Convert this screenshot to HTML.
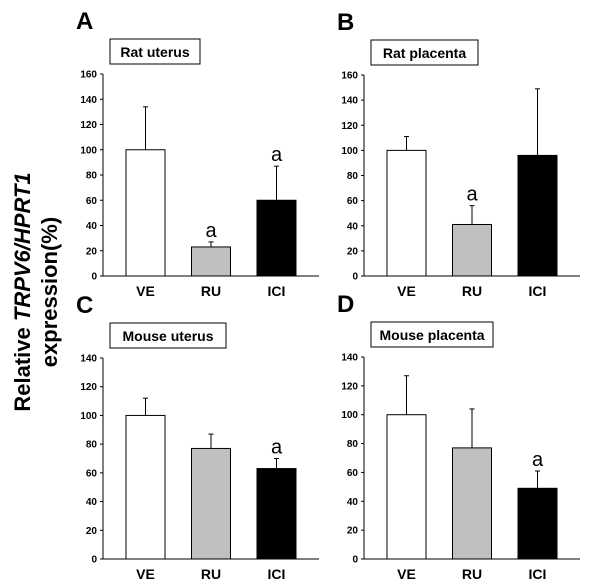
<!DOCTYPE html>
<html><head><meta charset="utf-8"><style>
body{margin:0;background:#fff;}
svg{display:block;font-family:"Liberation Sans",Arial,sans-serif;}
</style></head><body>
<svg id="fig" width="600" height="586" viewBox="0 0 600 586">
<text transform="translate(30,292) rotate(-90)" text-anchor="middle" font-size="22" font-weight="bold">Relative <tspan font-style="italic">TRPV6/HPRT1</tspan></text>
<text transform="translate(57,292) rotate(-90)" text-anchor="middle" font-size="22" font-weight="bold">expression(%)</text>
</svg>
<script>
const categories = ["VE","RU","ICI"];
const panelLetters = ["A","B","C","D"];
const panelTitles = ["Rat uterus","Rat placenta","Mouse uterus","Mouse placenta"];
const yMaxes = [160,160,140,140];
const valuesA = [100,23,60];
const errorsA = [34,4,27];
const valuesB = [100,41,96];
const errorsB = [11,15,53];
const valuesC = [100,77,63];
const errorsC = [12,10,7];
const valuesD = [100,77,49];
const errorsD = [27,27,12];
const sigA = [false,true,true];
const sigB = [false,true,false];
const sigC = [false,false,true];
const sigD = [false,false,true];
const values = [valuesA,valuesB,valuesC,valuesD];
const errors = [errorsA,errorsB,errorsC,errorsD];
const sigs = [sigA,sigB,sigC,sigD];
const fills = ["#ffffff","#c0c0c0","#000000"];
const NS="http://www.w3.org/2000/svg";
const svg=document.getElementById('fig');
function mk(tag,attrs,parent){const e=document.createElementNS(NS,tag);for(const k in attrs)e.setAttribute(k,attrs[k]);(parent||svg).appendChild(e);return e;}
const origins=[{x:103,y0:276,yTop:74},{x:364,y0:276,yTop:75},{x:103,y0:559,yTop:358},{x:364,y0:559,yTop:357}];
const titleW=[90,107,116,122];
origins.forEach((o,p)=>{
  const g=mk('g',{});
  
  
  const yMax=yMaxes[p];
  const ys=v=>o.y0-(v/yMax)*(o.y0-o.yTop);
  const xs=i=>o.x+23+i*65.5;
  const letter=mk('text',{x:o.x-27,y:o.yTop-45,'font-size':24,'font-weight':'bold'},g);
  letter.textContent=panelLetters[p];
  
  
  const tb=mk('rect',{x:o.x+7,y:o.yTop-35,width:titleW[p],height:25,fill:'#fff',stroke:'#000','stroke-width':1},g);
  
  
  const tt=mk('text',{x:o.x+7+titleW[p]/2,y:o.yTop-17,'text-anchor':'middle','font-size':14,'font-weight':'bold'},g);
  tt.textContent=panelTitles[p];
  
  
  const ya=mk('line',{x1:o.x,y1:o.yTop,x2:o.x,y2:o.y0,stroke:'#000','stroke-width':1},g);
  
  
  const xa=mk('line',{x1:o.x,y1:o.y0,x2:o.x+216,y2:o.y0,stroke:'#000','stroke-width':1},g);
  
  
  for(let t=0;t<=yMax;t+=20){
    const y=ys(t);
    mk('line',{x1:o.x-3,y1:y,x2:o.x,y2:y,stroke:'#000'},g);
    const tl=mk('text',{x:o.x-6,y:y+3.5,'text-anchor':'end','font-size':10,'font-weight':'bold'},g);
    tl.textContent=t;
    
    
  }
  categories.forEach((c,i)=>{
    const v=values[p][i],e=errors[p][i],x=xs(i);
    const el=mk('line',{x1:x+19.5,y1:ys(v+e),x2:x+19.5,y2:ys(v),stroke:'#000','stroke-width':1},g);
    
    
    mk('line',{x1:x+17,y1:ys(v+e),x2:x+22,y2:ys(v+e),stroke:'#000'},g);
    const r=mk('rect',{x:x,y:ys(v),width:39,height:o.y0-ys(v),fill:fills[i],stroke:'#000','stroke-width':1},g);
    
    
    const cl=mk('text',{x:x+19.5,y:o.y0+20,'text-anchor':'middle','font-size':14,'font-weight':'bold'},g);
    cl.textContent=c;
    
    
    if(sigs[p][i]){
      const s=mk('text',{x:x+19.5,y:ys(v+e)-5,'text-anchor':'middle','font-size':20},g);
      s.textContent='a';
      
      
    }
  });
});
</script>
</body></html>
